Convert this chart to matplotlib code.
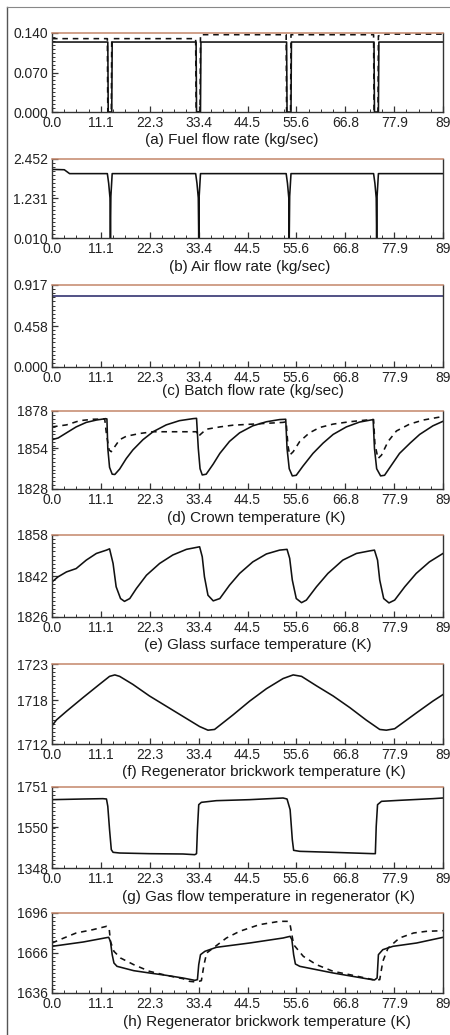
import numpy as np
import matplotlib
matplotlib.use("Agg")
import matplotlib.pyplot as plt
from matplotlib.lines import Line2D

plt.rcParams['font.family'] = ['Liberation Sans', 'DejaVu Sans']

# ---------------- data ----------------
x_ticks = [0.0, 11.1, 22.3, 33.4, 44.5, 55.6, 66.8, 77.9, 89]
x_tick_labels = ["0.0", "11.1", "22.3", "33.4", "44.5", "55.6", "66.8", "77.9", "89"]

titles = ["(a) Fuel flow rate (kg/sec)", "(b) Air flow rate (kg/sec)",
          "(c) Batch flow rate (kg/sec)", "(d) Crown temperature (K)",
          "(e) Glass surface temperature (K)", "(f) Regenerator brickwork temperature (K)",
          "(g) Gas flow temperature in regenerator (K)", "(h) Regenerator brickwork temperature (K)"]

y_ticks = [[0.000, 0.070, 0.140], [0.010, 1.231, 2.452], [0.000, 0.458, 0.917],
           [1828, 1854, 1878], [1826, 1842, 1858], [1712, 1718, 1723],
           [1348, 1550, 1751], [1636, 1666, 1696]]
y_tick_labels = [["0.000", "0.070", "0.140"], ["0.010", "1.231", "2.452"],
                 ["0.000", "0.458", "0.917"], ["1828", "1854", "1878"],
                 ["1826", "1842", "1858"], ["1712", "1718", "1723"],
                 ["1348", "1550", "1751"], ["1636", "1666", "1696"]]

# (a) fuel flow rate
fuel_t = [0, 12.7, 12.8, 13.6, 13.7, 32.8, 32.9, 33.8, 33.9, 53.4, 53.5, 54.4, 54.5,
          73.3, 73.4, 74.3, 74.4, 89]
fuel_solid = [0.124, 0.124, 0.0, 0.0, 0.124, 0.124, 0.0, 0.0, 0.124, 0.124, 0.0, 0.0, 0.124,
              0.124, 0.0, 0.0, 0.124, 0.124]
fuel_dash_t = [0, 12.6, 12.7, 13.5, 13.6, 32.7, 32.8, 33.7, 33.8, 53.3, 53.4, 54.3, 54.4,
               73.2, 73.3, 74.2, 74.3, 76.0, 89]
fuel_dash = [0.130, 0.130, 0.0, 0.0, 0.130, 0.130, 0.0, 0.0, 0.137, 0.137, 0.0, 0.0, 0.137,
             0.137, 0.0, 0.0, 0.135, 0.138, 0.138]

# (b) air flow rate
air_t = [0, 2.8, 4.0, 12.6, 12.9, 13.2, 13.3, 13.4, 13.7, 32.7, 33.0, 33.3, 33.4, 33.5, 33.8,
         53.3, 53.6, 53.9, 54.0, 54.1, 54.4, 73.2, 73.5, 73.8, 73.9, 74.0, 74.3, 89]
air_v = [2.13, 2.12, 2.00, 2.00, 1.70, 1.25, 0.01, 1.30, 2.00, 2.00, 1.70, 1.25, 0.01, 1.30, 2.00,
         2.00, 1.70, 1.25, 0.01, 1.30, 2.00, 2.00, 1.70, 1.25, 0.01, 1.30, 2.00, 2.00]

# (c) batch flow rate
batch_t = [0, 89]
batch_v = [0.79, 0.79]

# (d) crown temperature
crown_t = [0, 1.4, 3.3, 5.5, 7.8, 10.1, 12.2, 12.5, 12.7, 13.1, 13.7, 14.3, 15.4, 16.9, 18.4,
           20.7, 23.0, 26.0, 29.0, 32.1, 32.9, 33.3, 33.7, 34.2, 35.1, 36.7, 38.2, 40.4, 42.7,
           45.7, 48.8, 51.8, 53.2, 53.5, 54.0, 54.7, 55.6, 57.1, 59.4, 61.7, 64.0, 67.0, 70.0,
           73.1, 73.4, 73.9, 74.8, 75.7, 77.2, 79.1, 81.5, 83.7, 86.7, 89]
crown_solid = [1859.6, 1860.7, 1864.0, 1867.8, 1870.7, 1872.2, 1873.1, 1872.9, 1854.1, 1841.9,
               1837.5, 1837.3, 1840.8, 1847.5, 1853.0, 1859.6, 1864.7, 1869.1, 1871.8, 1873.1,
               1873.3, 1854.0, 1841.0, 1837.0, 1837.5, 1844.0, 1850.8, 1858.5, 1864.0, 1868.5,
               1871.1, 1872.5, 1872.7, 1854.0, 1841.0, 1836.4, 1836.8, 1842.6, 1850.8, 1857.4,
               1863.0, 1867.8, 1870.9, 1872.5, 1854.0, 1841.0, 1836.4, 1836.8, 1843.0, 1850.8,
               1857.4, 1863.0, 1868.5, 1871.4]
crown_dash_t = [0, 3.3, 6.3, 9.3, 12.0, 12.4, 13.0, 13.5, 14.3, 15.4, 16.9, 20.0, 23.0, 26.0,
                32.9, 33.2, 33.6, 35.1, 38.2, 41.2, 45.7, 48.8, 52.6, 53.3, 53.7, 54.1, 54.9,
                56.4, 58.6, 60.9, 64.0, 67.7, 71.5, 73.2, 73.5, 74.2, 75.0, 76.5, 78.4, 81.4,
                84.5, 89]
crown_dash = [1867.8, 1869.1, 1871.8, 1872.7, 1872.9, 1863.0, 1853.0, 1851.9, 1855.2, 1859.6,
              1861.8, 1863.6, 1864.7, 1864.7, 1864.7, 1861.8, 1862.5, 1866.3, 1867.8, 1868.9,
              1869.6, 1870.1, 1870.7, 1871.1, 1856.0, 1849.7, 1851.9, 1858.5, 1864.0, 1867.4,
              1869.6, 1871.1, 1872.2, 1872.5, 1857.0, 1847.5, 1849.7, 1858.5, 1865.2, 1869.6,
              1872.2, 1874.5]

# (e) glass surface temperature
glass_t = [0, 1.4, 3.3, 5.5, 7.8, 10.1, 12.4, 13.1, 13.9, 14.6, 15.6, 16.5, 17.7, 19.2, 21.5,
           24.5, 27.5, 30.6, 33.6, 34.2, 34.7, 35.5, 36.7, 38.2, 40.4, 42.7, 45.7, 48.8, 51.8,
           53.5, 54.1, 54.7, 55.6, 56.8, 57.9, 60.2, 62.8, 66.2, 69.3, 72.3, 73.4, 74.1, 74.6,
           75.5, 76.7, 78.0, 80.3, 82.9, 85.9, 89]
glass_v = [1839.7, 1841.7, 1843.6, 1844.9, 1848.2, 1850.8, 1852.1, 1852.6, 1846.9, 1837.8,
           1833.2, 1832.1, 1833.2, 1837.1, 1842.3, 1846.9, 1850.2, 1852.4, 1853.4, 1849.5,
           1841.7, 1834.5, 1832.3, 1833.2, 1838.4, 1843.0, 1847.5, 1850.6, 1852.1, 1852.4,
           1848.9, 1840.4, 1833.2, 1831.6, 1832.6, 1837.8, 1843.0, 1848.2, 1850.8, 1851.8,
           1852.1, 1848.2, 1840.4, 1833.2, 1831.5, 1832.6, 1837.8, 1843.0, 1847.5, 1850.8]

# (f) regenerator brickwork temperature
brick_t = [0, 1.0, 3.3, 7.1, 10.8, 13.1, 14.3, 15.4, 18.4, 22.2, 26.0, 29.8, 33.6, 35.5, 37.0,
           41.2, 45.0, 48.8, 52.6, 54.9, 56.8, 60.2, 64.0, 67.8, 71.5, 74.6, 76.1, 78.0, 83.0,
           86.7, 89]
brick_v = [1714.5, 1715.3, 1716.5, 1718.4, 1720.2, 1721.3, 1721.5, 1721.3, 1720.2, 1718.6,
           1717.2, 1715.8, 1714.4, 1713.9, 1714.0, 1716.0, 1717.9, 1719.6, 1721.0, 1721.5,
           1721.3, 1720.0, 1718.6, 1717.0, 1715.3, 1714.0, 1713.9, 1714.1, 1716.3, 1717.9,
           1718.8]

# (g) gas flow temperature in regenerator
gas_t = [0, 7.1, 11.6, 12.4, 12.7, 13.1, 13.5, 13.9, 15.4, 22.2, 29.8, 32.5, 32.9, 33.1, 33.4,
         34.0, 37.4, 45.0, 52.6, 53.5, 54.2, 54.7, 55.0, 56.4, 64.0, 73.1, 73.6, 73.8, 74.1,
         75.0, 79.1, 86.7, 89]
gas_v = [1688.0, 1691.3, 1693.0, 1691.3, 1654.8, 1538.7, 1439.2, 1426.0, 1422.6, 1419.3, 1417.7,
         1414.3, 1419.3, 1538.7, 1663.0, 1674.7, 1683.0, 1688.0, 1696.3, 1691.3, 1638.2, 1489.0,
         1435.9, 1430.9, 1425.9, 1419.3, 1419.3, 1555.3, 1663.0, 1679.7, 1684.7, 1693.0, 1696.3]

# (h) regenerator brickwork temperature (second location)
regen_t = [0, 7.1, 12.4, 12.9, 13.3, 13.7, 14.1, 14.8, 18.6, 22.2, 26.0, 29.8, 32.5, 33.1, 33.4,
           33.8, 34.8, 37.4, 45.0, 52.6, 54.2, 54.6, 55.0, 55.4, 56.4, 64.0, 71.5, 73.4, 74.0,
           74.3, 75.3, 77.6, 83.0, 89]
regen_solid = [1671.0, 1674.25, 1677.5, 1677.75, 1674.75, 1664.75, 1658.5, 1656.0, 1652.75,
               1651.0, 1649.25, 1647.25, 1645.5, 1646.0, 1657.25, 1664.75, 1667.25, 1670.25,
               1673.5, 1677.25, 1678.5, 1676.0, 1664.75, 1657.75, 1656.0, 1651.0, 1646.75,
               1645.75, 1647.25, 1664.75, 1668.5, 1671.0, 1673.5, 1677.75]
regen_dash_t = [0, 2.7, 5.5, 9.3, 12.4, 13.0, 13.3, 14.1, 15.6, 18.6, 22.2, 26.0, 29.8, 31.3,
                32.9, 34.0, 34.6, 35.2, 36.7, 39.7, 42.7, 47.2, 51.8, 53.7, 54.2, 55.0, 57.2,
                60.2, 64.0, 68.5, 73.1, 74.6, 75.3, 76.5, 79.1, 82.3, 85.2, 89]
regen_dash = [1673.5, 1677.25, 1681.0, 1683.5, 1686.0, 1684.75, 1674.75, 1667.25, 1662.25,
              1657.25, 1652.25, 1649.25, 1646.75, 1644.75, 1644.25, 1645.25, 1657.25, 1666.0,
              1669.75, 1677.25, 1682.25, 1687.25, 1689.75, 1689.75, 1687.25, 1672.25, 1663.5,
              1657.25, 1652.25, 1649.25, 1646.0, 1646.0, 1659.75, 1669.75, 1677.25, 1681.0,
              1682.25, 1682.75]

solid_series = [(fuel_t, fuel_solid), (air_t, air_v), (batch_t, batch_v), (crown_t, crown_solid),
                (glass_t, glass_v), (brick_t, brick_v), (gas_t, gas_v), (regen_t, regen_solid)]
dash_series = [(fuel_dash_t, fuel_dash), None, None, (crown_dash_t, crown_dash),
               None, None, None, (regen_dash_t, regen_dash)]

# ---------------- layout ----------------
W, H = 450, 1035
fig = plt.figure(figsize=(W / 100, H / 100), dpi=100)
fig.patch.set_facecolor("white")

ax_left, ax_right = 52, 443
panel_px = [(33, 112), (159, 238), (285, 367), (411, 489), (535, 617), (664, 744),
            (787, 868), (913, 993)]
title_pos = [(232, 140), (250, 267), (253, 391), (256, 518), (258, 645), (264, 772),
             (268, 897), (267, 1022)]

# outer frame lines (left and top) of the scanned page
fig.add_artist(Line2D([7 / W, 7 / W], [0, 1 - 7 / H], transform=fig.transFigure,
                      color="#555555", lw=1.0))
fig.add_artist(Line2D([7 / W, 1.0], [1 - 7 / H, 1 - 7 / H], transform=fig.transFigure,
                      color="#888888", lw=0.8))

line_col = "#111111"
for i in range(8):
    top, bot = panel_px[i]
    ax = fig.add_axes([ax_left / W, 1 - bot / H, (ax_right - ax_left) / W, (bot - top) / H])
    t, v = solid_series[i]
    col = "#2a2a6a" if i == 2 else line_col
    ax.plot(t, v, color=col, lw=1.15, solid_joinstyle="round")
    if dash_series[i] is not None:
        td, vd = dash_series[i]
        ax.plot(td, vd, color=line_col, lw=1.15, dashes=(3.5, 3))
    ax.set_xlim(0, 89)
    ax.set_ylim(y_ticks[i][0], y_ticks[i][-1])
    ax.set_xticks(x_ticks)
    ax.set_xticklabels(x_tick_labels)
    ax.set_yticks(y_ticks[i])
    ax.set_yticklabels(y_tick_labels[i])
    ax.set_xticks(np.linspace(0, 89, 33), minor=True)
    ax.set_yticks(np.linspace(y_ticks[i][0], y_ticks[i][-1], 21), minor=True)
    ax.tick_params(which="both", direction="in", top=False, right=False,
                   colors="#333333", labelcolor="#222222")
    ax.tick_params(which="major", length=4.5, width=0.9, labelsize=10)
    ax.tick_params(axis="x", which="major", pad=3)
    ax.tick_params(axis="y", which="major", pad=3)
    ax.tick_params(which="minor", length=2.2, width=0.7)
    for s in ["left", "right", "bottom"]:
        ax.spines[s].set_color("#333333")
        ax.spines[s].set_linewidth(1.0)
    ax.spines["top"].set_color("#c4866a")
    ax.spines["top"].set_linewidth(1.1)
    fig.text(title_pos[i][0] / W, 1 - title_pos[i][1] / H, titles[i], ha="center",
             va="center", fontsize=11, color="#1a1a1a")

fig.savefig("out.png", dpi=100, facecolor="white")
